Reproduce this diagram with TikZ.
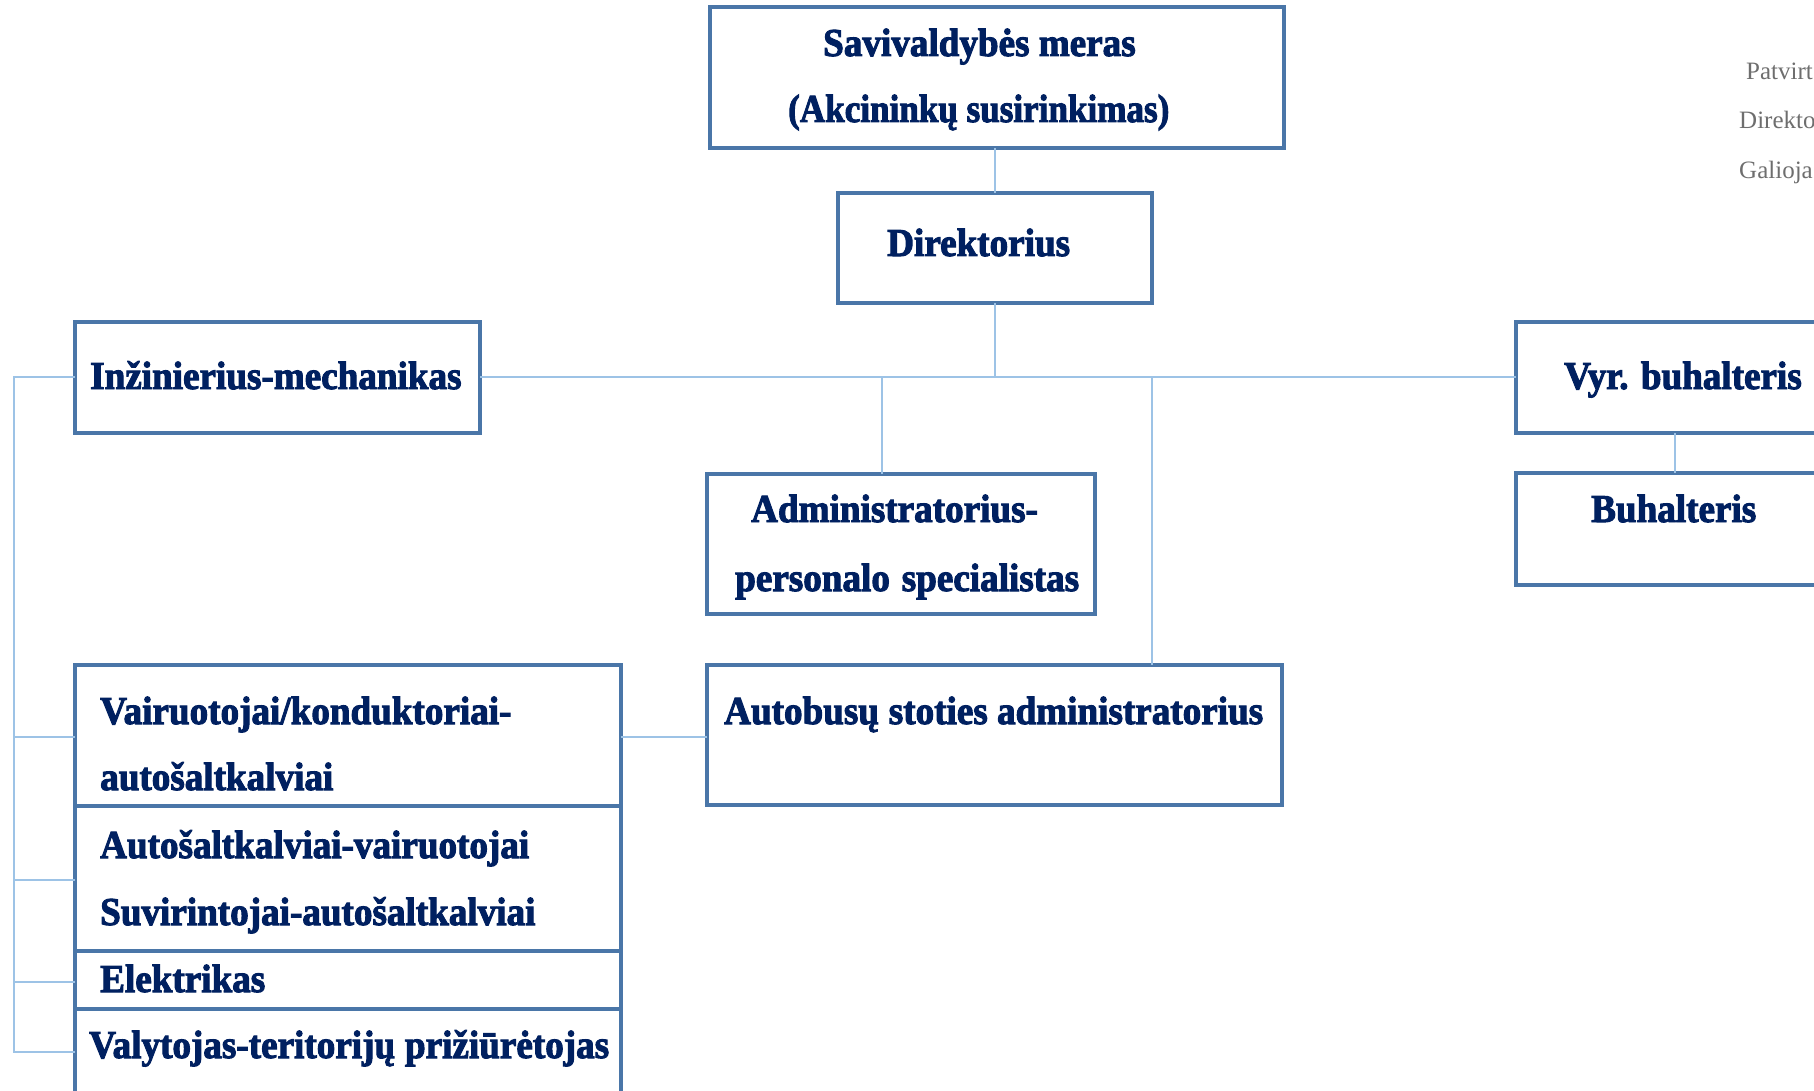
\documentclass[tikz,border=0pt]{standalone}
\usepackage{fontspec}
\setmainfont{Liberation Serif}
\newfontfamily\heavy{Liberation Serif}[BoldFeatures={FakeBold=2.5,FakeStretch=0.94}]
\definecolor{boxblue}{RGB}{74,118,168}
\definecolor{boxlight}{RGB}{160,188,220}
\definecolor{linkblue}{RGB}{157,195,230}
\definecolor{txtblue}{RGB}{0,32,96}
\definecolor{graytxt}{RGB}{110,110,110}
\begin{document}
\begin{tikzpicture}[x=1pt,y=-1pt,
 box/.style={draw=boxblue, line width=3.5pt, fill=white, inner sep=0pt, outer sep=0pt, anchor=north west,
   append after command={[draw=boxlight, line width=1.2pt] ([shift={(2.6pt,-2.6pt)}]\tikzlastnode.north west) rectangle ([shift={(-2.6pt,2.6pt)}]\tikzlastnode.south east)}},
 link/.style={draw=linkblue, line width=1.5pt},
 lbl/.style={anchor=base west, inner sep=0pt, text=txtblue, font=\fontsize{39.5}{46}\selectfont\heavy\bfseries},
 note/.style={anchor=base west, inner sep=0pt, text=graytxt, font=\fontsize{25}{30}\selectfont}]
\useasboundingbox (0,0) rectangle (1814,1091);
\clip (0,0) rectangle (1814,1091);
% boxes
\node[box, minimum width=574pt, minimum height=141pt] (mayor) at (710,7) {};
\node[box, minimum width=314pt, minimum height=110pt] (dir) at (838,193) {};
\node[box, minimum width=405pt, minimum height=111pt] (inz) at (75,322) {};
\node[box, minimum width=318pt, minimum height=111pt] (vyr) at (1516,322) {};
\node[box, minimum width=318pt, minimum height=112pt] (buh) at (1516,473) {};
\node[box, minimum width=388pt, minimum height=140pt] (adm) at (707,474) {};
\node[box, minimum width=575pt, minimum height=140pt] (aut) at (707,665) {};
\node[box, minimum width=546pt, minimum height=141pt] (r1) at (75,665) {};
\node[box, minimum width=546pt, minimum height=145pt] (r2) at (75,806) {};
\node[box, minimum width=546pt, minimum height=58pt] (r3) at (75,951) {};
\node[box, minimum width=546pt, minimum height=110pt] (r4) at (75,1009) {};
% connectors
\coordinate (jd) at (995,377);
\coordinate (ja) at (882,377);
\coordinate (jb) at (1152,377);
\coordinate (lt) at (14,377);
\coordinate (l1) at (14,737);
\coordinate (l2) at (14,880);
\coordinate (l3) at (14,982);
\coordinate (lb) at (14,1052);
\draw[link] (jd |- mayor.south) -- (jd |- dir.north);
\draw[link] (jd |- dir.south) -- (jd);
\draw[link] (inz.east |- jd) -- (vyr.west |- jd);
\draw[link] (ja) -- (ja |- adm.north);
\draw[link] (jb) -- (jb |- aut.north);
\draw[link] (vyr.south) -- (buh.north);
\draw[link] (inz.west |- lt) -- (lt) -- (lb) -- (lb -| r4.west);
\draw[link] (l1) -- (l1 -| r1.west);
\draw[link] (l2) -- (l2 -| r2.west);
\draw[link] (l3) -- (l3 -| r3.west);
\draw[link] (l1 -| r1.east) -- (l1 -| aut.west);
% labels
\node[lbl] (t1) at (823,56) {Savivaldybės meras};
\node[lbl] (t2) at (788,122) {\scalebox{0.945}[1]{(Akcininkų susirinkimas)}};
\node[lbl] (t3) at (887,256) {Direktorius};
\node[lbl] (t4) at (90,389) {Inžinierius-mechanikas};
\node[lbl] (t5) at (1564,389) {Vyr. buhalteris};
\node[lbl] (t6) at (1591,522) {Buhalteris};
\node[lbl] (t7) at (751,522) {Administratorius-};
\node[lbl] (t8) at (735,591) {personalo\hspace{0.3em}specialistas};
\node[lbl] (t9) at (724,724) {Autobusų\hspace{0.25em}stoties administratorius};
\node[lbl] (t10) at (100,724) {Vairuotojai/konduktoriai-};
\node[lbl] (t11) at (100,790) {autošaltkalviai};
\node[lbl] (t12) at (100,858) {Autošaltkalviai-vairuotojai};
\node[lbl] (t13) at (100,925) {Suvirintojai-autošaltkalviai};
\node[lbl] (t14) at (100,992) {Elektrikas};
\node[lbl] (t15) at (89,1058) {Valytojas-teritorijų\hspace{0.25em}prižiūrėtojas};
\node[note] (n1) at (1746,80) {Patvirt};
\node[note] (n2) at (1739,129) {Direkto};
\node[note] (n3) at (1739,179) {Galioja};
\end{tikzpicture}
\end{document}
